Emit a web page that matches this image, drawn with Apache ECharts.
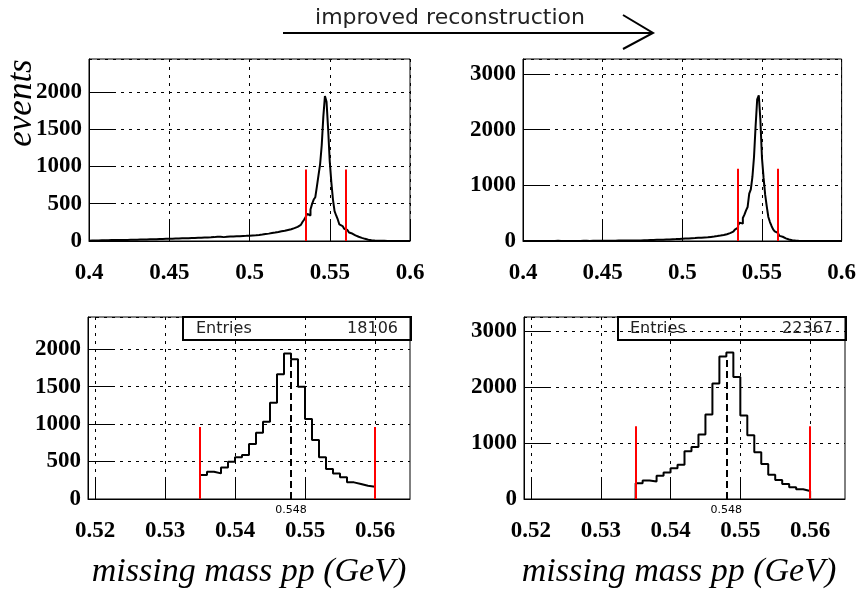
<!DOCTYPE html>
<html>
<head>
<meta charset="utf-8">
<script src="https://cdn.jsdelivr.net/npm/echarts@6/dist/echarts.min.js"></script>
<style>
  html, body { margin: 0; background: #fff; }
  #chart { width: 859px; height: 592px; }
</style>
</head>
<body>
<div id="chart"></div>
<script>
// histogram binning (GeV)
const binWidth = 0.001;
const fullStart = 0.4;
const windowStart = 0.535;

// left column: bins 0.400 .. 0.534
const leftTailLow = [
  4, 6, 5, 7, 6, 8, 7, 9, 8, 10,
  9, 11, 10, 12, 11, 13, 12, 12, 14, 13,
  15, 14, 16, 15, 17, 16, 18, 17, 19, 18,
  20, 19, 21, 20, 22, 21, 23, 22, 24, 23,
  25, 24, 26, 27, 26, 28, 27, 29, 30, 29,
  31, 30, 33, 32, 34, 33, 35, 36, 35, 37,
  38, 37, 40, 39, 41, 40, 43, 42, 44, 43,
  45, 46, 44, 48, 47, 49, 50, 52, 55, 58,
  62, 58, 54, 52, 55, 57, 56, 59, 58, 61,
  60, 63, 62, 65, 64, 67, 66, 69, 70, 72,
  73, 75, 76, 78, 80, 82, 84, 87, 90, 93,
  96, 99, 103, 106, 110, 113, 117, 121, 125, 130,
  134, 138, 143, 148, 153, 158, 165, 172, 180, 190,
  202, 216, 233, 255, 285
];
// left column: bins 0.535 .. 0.559 (zoomed window)
const leftWindow = [
  320, 364, 342, 422, 498, 556, 587, 733, 884, 1031,
  1284, 1667, 1942, 1867, 1498, 1067, 787, 556, 400, 342,
  289, 222, 200, 178, 164
];
// left column: bins 0.560 .. 0.599
const leftTailHigh = [
  148, 130, 114, 100, 88, 76, 66, 57, 49, 42,
  35, 29, 23, 18, 14, 11, 8, 6, 5, 4,
  3, 3, 2, 2, 1, 1, 1, 1, 0, 0,
  0, 0, 0, 0, 0, 0, 0, 0, 0, 0
];

// right column (improved reconstruction)
const rightTailLow = [
  0, 0, 1, 0, 0, 1, 0, 0, 1, 0,
  1, 0, 0, 1, 0, 1, 0, 0, 1, 1,
  2, 3, 2, 1, 1, 2, 1, 2, 1, 2,
  2, 1, 2, 2, 3, 2, 2, 3, 2, 3,
  3, 2, 3, 4, 3, 4, 3, 4, 5, 4,
  6, 5, 4, 5, 5, 6, 5, 6, 6, 7,
  6, 7, 7, 8, 7, 8, 9, 8, 9, 10,
  10, 11, 12, 11, 13, 14, 15, 14, 16, 17,
  18, 20, 19, 22, 21, 23, 25, 24, 27, 28,
  30, 29, 31, 33, 32, 34, 36, 37, 39, 41,
  42, 44, 45, 47, 48, 50, 52, 53, 55, 57,
  58, 60, 62, 64, 66, 68, 71, 74, 77, 80,
  84, 88, 92, 97, 102, 108, 115, 122, 131, 141,
  153, 167, 184, 206, 240
];
const rightWindow = [
  282, 330, 312, 413, 473, 551, 611, 851, 928, 1150,
  1510, 2061, 2546, 2618, 2180, 1492, 1138, 833, 623, 431,
  341, 270, 210, 174, 144
];
const rightTailHigh = [
  110, 92, 76, 61, 48, 37, 28, 21, 15, 11,
  9, 6, 4, 3, 2, 1, 1, 1, 0, 0,
  0, 0, 0, 0, 0, 0, 0, 0, 0, 0,
  0, 0, 0, 0, 0, 0, 0, 0, 0, 0
];

const cutLines = [0.535, 0.56];
const cutHeights = [960, 1300];
const peakMark = 0.548;
const peakHeights = [1942, 2546];
const entries = ['18106', '22367'];
const bottomTicksX = [0.52, 0.53, 0.54, 0.55, 0.56];

// 直方图的阶梯点 (bin 左边界 + 最后的右边界)
function stepData(values, start, leadZero) {
  const pts = values.map((v, i) => [+(start + i * binWidth).toFixed(3), v]);
  pts.push([+(start + values.length * binWidth).toFixed(3), 0]);
  if (leadZero) pts.unshift([start, 0]);
  return pts;
}

const chart = echarts.init(document.getElementById('chart'));

const tickFont = {
  fontFamily: 'Liberation Serif',
  fontWeight: 'bold',
  fontSize: 23,
  color: '#000',
};
const gridLine = { show: true, lineStyle: { color: '#000', type: [3, 5], width: 1 } };
const axisLine = { show: true, lineStyle: { color: '#000', width: 1 } };

function topX(idx) {
  return {
    type: 'value', gridIndex: idx, min: 0.4, max: 0.6, interval: 0.05,
    axisLine, splitLine: gridLine,
    axisTick: { inside: true, length: 20, lineStyle: { color: '#000' } },
    axisLabel: { ...tickFont, margin: 21, formatter: (v) => String(+v.toFixed(3)) },
  };
}
function bottomX(idx) {
  return {
    type: 'value', gridIndex: idx, min: 0.519, max: 0.565,
    axisLine, splitLine: gridLine,
    axisTick: { inside: true, length: 20, customValues: bottomTicksX, lineStyle: { color: '#000' } },
    axisLabel: { ...tickFont, margin: 21, customValues: bottomTicksX, formatter: (v) => String(+v.toFixed(3)) },
  };
}
function yAx(idx, max, interval) {
  return {
    type: 'value', gridIndex: idx, min: 0, max: max, interval: interval,
    axisLine, splitLine: gridLine,
    axisTick: { inside: true, length: 25, lineStyle: { color: '#000' } },
    axisLabel: { ...tickFont, margin: 7, showMaxLabel: false, formatter: (v) => String(v) },
  };
}

function cutMarks(height) {
  return cutLines.map((x) => [
    { coord: [x, 0], lineStyle: { color: '#ff0000', width: 2, type: 'solid' } },
    { coord: [x, height] },
  ]);
}
function peakMarkLine(height) {
  return [
    {
      coord: [peakMark, 0],
      lineStyle: { color: '#000', width: 2, type: [7, 4] },
      label: {
        show: true, position: 'start', formatter: String(peakMark),
        fontFamily: 'DejaVu Sans', fontSize: 11, color: '#000', distance: 6,
      },
    },
    { coord: [peakMark, height] },
  ];
}

function histSeries(idx, data, marks) {
  return {
    type: 'line', xAxisIndex: idx, yAxisIndex: idx,
    step: 'end', data: data, showSymbol: false, clip: false,
    lineStyle: { color: '#000', width: 2 },
    markLine: {
      symbol: ['none', 'none'], silent: true, animation: false,
      label: { show: false },
      data: marks,
    },
  };
}

const leftFull = leftTailLow.concat(leftWindow, leftTailHigh);
const rightFull = rightTailLow.concat(rightWindow, rightTailHigh);

const titleFont = 'italic 34px "Liberation Serif"';
const boxFont = '16px "DejaVu Sans"';

const option = {
  animation: false,
  grid: [
    { left: 89, top: 59, width: 321, height: 182, show: true, borderColor: '#000', borderWidth: 1 },
    { left: 523, top: 59, width: 322, height: 182, show: true, borderColor: '#000', borderWidth: 1 },
    { left: 88, top: 317, width: 322, height: 182, show: true, borderColor: '#000', borderWidth: 1 },
    { left: 524, top: 317, width: 321, height: 182, show: true, borderColor: '#000', borderWidth: 1 },
  ],
  xAxis: [topX(0), topX(1), bottomX(2), bottomX(3)],
  yAxis: [yAx(0, 2440, 500), yAx(1, 3270, 1000), yAx(2, 2430, 500), yAx(3, 3250, 1000)],
  series: [
    histSeries(0, stepData(leftFull, fullStart, false), cutMarks(cutHeights[0])),
    histSeries(1, stepData(rightFull, fullStart, false), cutMarks(cutHeights[1])),
    histSeries(2, stepData(leftWindow, windowStart, true),
      cutMarks(cutHeights[0]).concat([peakMarkLine(peakHeights[0])])),
    histSeries(3, stepData(rightWindow, windowStart, true),
      cutMarks(cutHeights[1]).concat([peakMarkLine(peakHeights[1])])),
  ],
  graphic: [
    // header arrow
    { type: 'line', shape: { x1: 283, y1: 33, x2: 653, y2: 33 }, style: { stroke: '#000', lineWidth: 2 } },
    { type: 'polyline', shape: { points: [[623, 15], [653, 33], [623, 49]] }, style: { stroke: '#000', lineWidth: 2, fill: null } },
    {
      type: 'text', x: 450, y: 18,
      style: { text: 'improved reconstruction', font: '22px "DejaVu Sans"', fill: '#222', align: 'center', verticalAlign: 'middle' },
    },
    {
      type: 'text', x: 22, y: 103, rotation: Math.PI / 2,
      style: { text: 'events', font: 'italic 35px "Liberation Serif"', fill: '#000', align: 'center', verticalAlign: 'middle' },
    },
    {
      type: 'text', x: 249, y: 572,
      style: { text: 'missing mass pp (GeV)', font: titleFont, fill: '#000', align: 'center', verticalAlign: 'middle' },
    },
    {
      type: 'text', x: 679, y: 572,
      style: { text: 'missing mass pp (GeV)', font: titleFont, fill: '#000', align: 'center', verticalAlign: 'middle' },
    },
    // stats boxes
    { type: 'rect', shape: { x: 183, y: 317, width: 228, height: 23 }, style: { fill: null, stroke: '#000', lineWidth: 2 }, z: 10 },
    { type: 'text', x: 196, y: 329, style: { text: 'Entries', font: boxFont, fill: '#222', verticalAlign: 'middle' }, z: 10 },
    { type: 'text', x: 398, y: 329, style: { text: entries[0], font: boxFont, fill: '#222', align: 'right', verticalAlign: 'middle' }, z: 10 },
    { type: 'rect', shape: { x: 618, y: 317, width: 228, height: 23 }, style: { fill: null, stroke: '#000', lineWidth: 2 }, z: 10 },
    { type: 'text', x: 630, y: 329, style: { text: 'Entries', font: boxFont, fill: '#222', verticalAlign: 'middle' }, z: 10 },
    { type: 'text', x: 833, y: 329, style: { text: entries[1], font: boxFont, fill: '#222', align: 'right', verticalAlign: 'middle' }, z: 10 },
  ],
};

chart.setOption(option);
</script>
</body>
</html>
